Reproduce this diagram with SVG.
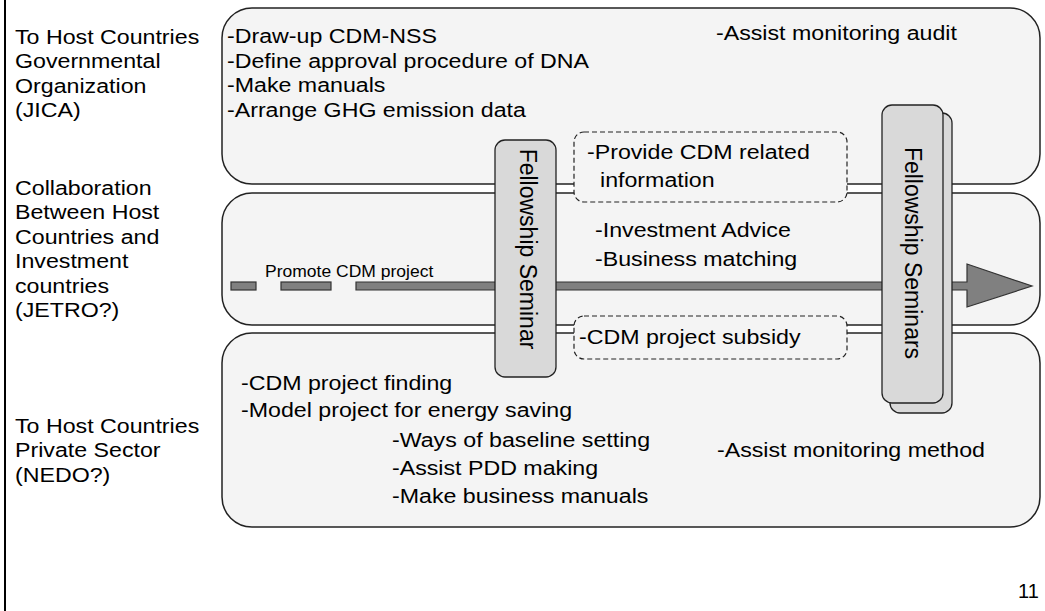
<svg xmlns="http://www.w3.org/2000/svg" width="1045" height="611" viewBox="0 0 1045 611">
  <defs>
    <style>
      text { font-family: "Liberation Sans", Arial, sans-serif; font-size: 20px; fill: #000; }
      .band { fill: #f4f4f4; stroke: #222; stroke-width: 1.5; }
      .note { fill: #f4f4f4; stroke: #222; stroke-width: 1.2; stroke-dasharray: 5 3; }
      .seminar { fill: #d9d9d9; stroke: #222; stroke-width: 1.3; }
      .flow { fill: #808080; stroke: #333; stroke-width: 1.2; }
      .vert { font-size: 23px; }
      .small { font-size: 17px; }
    </style>
  </defs>

  <rect width="1045" height="611" fill="#fff"/>
  <!-- page edge -->
  <line x1="5" y1="0" x2="5" y2="611" stroke="#000" stroke-width="2"/>

  <!-- row captions (wide lettering: x values are pre-divided by the 1.16 stretch) -->
  <g id="caption-jica" transform="scale(1.16 1)">
    <text x="12.93" y="44">To Host Countries</text>
    <text x="12.93" y="68.5">Governmental</text>
    <text x="12.93" y="93">Organization</text>
    <text x="12.93" y="117.5">(JICA)</text>
  </g>
  <g id="caption-jetro" transform="scale(1.16 1)">
    <text x="12.93" y="195">Collaboration</text>
    <text x="12.93" y="219.5">Between Host</text>
    <text x="12.93" y="244">Countries and</text>
    <text x="12.93" y="268.5">Investment</text>
    <text x="12.93" y="293">countries</text>
    <text x="12.93" y="317.5">(JETRO?)</text>
  </g>
  <g id="caption-nedo" transform="scale(1.16 1)">
    <text x="12.93" y="433">To Host Countries</text>
    <text x="12.93" y="457.5">Private Sector</text>
    <text x="12.93" y="482">(NEDO?)</text>
  </g>

  <!-- horizontal bands -->
  <g id="band-government">
    <rect class="band" x="222" y="8" width="818" height="176" rx="30" ry="30"/>
    <g transform="scale(1.16 1)">
      <text x="195.69" y="43.5">-Draw-up CDM-NSS</text>
      <text x="195.69" y="68">-Define approval procedure of DNA</text>
      <text x="195.69" y="92.5">-Make manuals</text>
      <text x="195.69" y="117">-Arrange GHG emission data</text>
      <text x="617.24" y="40">-Assist monitoring audit</text>
    </g>
  </g>
  <g id="band-collaboration">
    <rect class="band" x="222" y="193" width="818" height="132" rx="30" ry="30"/>
    <g transform="scale(1.16 1)">
      <text x="512.93" y="237.5">-Investment Advice</text>
      <text x="512.93" y="266.5">-Business matching</text>
    </g>
  </g>
  <g id="band-private">
    <rect class="band" x="222" y="333" width="818" height="194" rx="30" ry="30"/>
    <g transform="scale(1.16 1)">
      <text x="207.76" y="390">-CDM project finding</text>
      <text x="207.76" y="417.5">-Model project for energy saving</text>
      <text x="337.93" y="447">-Ways of baseline setting</text>
      <text x="337.93" y="475">-Assist PDD making</text>
      <text x="337.93" y="503">-Make business manuals</text>
      <text x="618.10" y="457">-Assist monitoring method</text>
    </g>
  </g>

  <!-- flow arrow across the collaboration band -->
  <g id="connectors">
    <rect class="flow" x="231" y="282" width="25" height="8"/>
    <rect class="flow" x="281" y="282" width="50" height="8"/>
    <polygon class="flow" points="356,282 967,282 967,264 1032,286 967,307 967,290 356,290"/>
    <text class="small" transform="scale(1.03 1)" x="257.28" y="277">Promote CDM project</text>
  </g>

  <!-- dashed notes bridging the bands -->
  <g id="note-information">
    <rect class="note" x="574" y="132" width="273" height="70" rx="10" ry="10"/>
    <g transform="scale(1.16 1)">
      <text x="506.03" y="159.5">-Provide CDM related</text>
      <text x="517.24" y="187">information</text>
    </g>
  </g>
  <g id="note-subsidy">
    <rect class="note" x="574" y="316" width="273" height="43" rx="10" ry="10"/>
    <text transform="scale(1.16 1)" x="499.14" y="344">-CDM project subsidy</text>
  </g>

  <!-- seminar blocks -->
  <g id="seminar-single">
    <rect class="seminar" x="495" y="140" width="61" height="237" rx="10" ry="10"/>
    <text class="vert" transform="translate(520 249) rotate(90)" text-anchor="middle">Fellowship Seminar</text>
  </g>
  <g id="seminar-series">
    <rect class="seminar" x="890" y="113" width="62" height="300" rx="10" ry="10"/>
    <rect class="seminar" x="882" y="105" width="61" height="298" rx="10" ry="10"/>
    <text class="vert" transform="translate(905 253) rotate(90)" text-anchor="middle">Fellowship Seminars</text>
  </g>

  <text x="1018" y="598" font-size="17">11</text>
</svg>
